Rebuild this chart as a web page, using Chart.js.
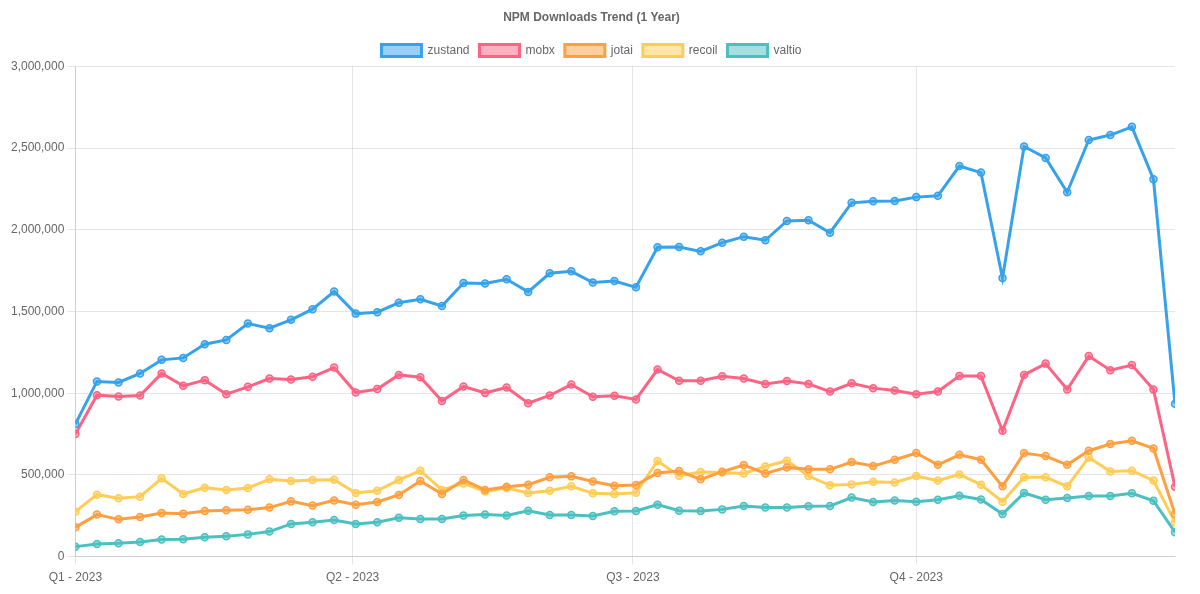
<!DOCTYPE html>
<html>
<head>
<meta charset="utf-8">
<title>NPM Downloads Trend</title>
<script src="https://cdn.jsdelivr.net/npm/chart.js@4.4.1/dist/chart.umd.min.js"></script>
<style>
    html, body { margin: 0; padding: 0; background: #fff; }
    #wrap { width: 1200px; height: 594px; }
</style>
</head>
<body>
<div id="wrap"><canvas id="chart-npm"></canvas></div>
<script>
// ---------------------------------------------------------------------------
// DONNÉES — téléchargements hebdomadaires 2023
// ---------------------------------------------------------------------------

const NB_WEEKS = 52;

const QUARTER_DAYS   = [0, 90, 181, 273];
const QUARTER_LABELS = ['Q1 - 2023', 'Q2 - 2023', 'Q3 - 2023', 'Q4 - 2023'];

const Y_TICKS = [0, 500000, 1000000, 1500000, 2000000, 2500000, 3000000];

const zustand = [
    811000, 1072000, 1066000, 1121000, 1204000, 1216000, 1300000, 1326000, 1426000, 1398000,
    1449000, 1514000, 1622000, 1487000, 1496000, 1554000, 1575000, 1534000, 1675000, 1671000,
    1697000, 1620000, 1734000, 1746000, 1677000, 1687000, 1648000, 1893000, 1895000, 1868000,
    1921000, 1958000, 1936000, 2054000, 2058000, 1982000, 2165000, 2174000, 2176000, 2200000,
    2208000, 2390000, 2350000, 1705000, 2510000, 2440000, 2230000, 2550000, 2580000, 2630000,
    2310000, 935000,
];

const mobx = [
    750000, 988000, 980000, 986000, 1121000, 1045000, 1080000, 994000, 1039000, 1090000,
    1084000, 1100000, 1157000, 1004000, 1025000, 1112000, 1098000, 952000, 1041000, 1002000,
    1035000, 939000, 986000, 1053000, 978000, 984000, 962000, 1145000, 1076000, 1076000,
    1104000, 1090000, 1056000, 1074000, 1057000, 1010000, 1061000, 1031000, 1017000, 994000,
    1010000, 1106000, 1106000, 770000, 1112000, 1181000, 1023000, 1227000, 1141000, 1172000,
    1023000, 428000,
];

const jotai = [
    179000, 257000, 228000, 243000, 267000, 263000, 279000, 283000, 287000, 300000,
    338000, 312000, 344000, 318000, 334000, 377000, 463000, 383000, 469000, 408000,
    428000, 440000, 485000, 491000, 460000, 434000, 438000, 512000, 524000, 473000,
    520000, 560000, 509000, 546000, 534000, 534000, 579000, 554000, 593000, 634000,
    562000, 623000, 593000, 430000, 634000, 615000, 562000, 648000, 689000, 709000,
    662000, 261000,
];

const recoil = [
    275000, 379000, 357000, 367000, 479000, 383000, 422000, 408000, 420000, 473000,
    463000, 469000, 471000, 389000, 403000, 469000, 526000, 408000, 448000, 399000,
    420000, 389000, 403000, 430000, 387000, 383000, 391000, 585000, 495000, 518000,
    515000, 509000, 552000, 587000, 493000, 436000, 442000, 458000, 454000, 493000,
    465000, 503000, 440000, 336000, 485000, 485000, 430000, 607000, 521000, 526000,
    465000, 210000,
];

const valtio = [
    61000, 77000, 81000, 90000, 104000, 106000, 118000, 124000, 136000, 153000,
    200000, 210000, 224000, 200000, 210000, 238000, 230000, 230000, 251000, 257000,
    251000, 281000, 255000, 255000, 249000, 277000, 279000, 318000, 281000, 279000,
    289000, 310000, 300000, 300000, 308000, 310000, 361000, 334000, 344000, 336000,
    348000, 373000, 350000, 261000, 389000, 348000, 359000, 371000, 371000, 387000,
    342000, 149000,
];

const SERIES = [
    { nom: 'zustand', valeurs: zustand, rgb: '54, 162, 235'  },
    { nom: 'mobx',    valeurs: mobx,    rgb: '255, 99, 132'  },
    { nom: 'jotai',   valeurs: jotai,   rgb: '255, 159, 64'  },
    { nom: 'recoil',  valeurs: recoil,  rgb: '255, 205, 86'  },
    { nom: 'valtio',  valeurs: valtio,  rgb: '75, 192, 192'  },
];

// jour de l'année pour chaque semaine (axe linéaire, pas d'adaptateur date)
const weekDays = [];
for (let i = 0; i < NB_WEEKS; i++) weekDays.push(i * 7);

// ---------------------------------------------------------------------------
// GRAPHIQUE
// ---------------------------------------------------------------------------

Chart.defaults.font.family = "'Helvetica Neue', Helvetica, Arial, 'Liberation Sans', sans-serif";
Chart.defaults.color = '#666';

const datasets = SERIES.map(s => ({
    label:                s.nom,
    data:                 s.valeurs.map((v, i) => ({ x: weekDays[i], y: v })),
    borderColor:          `rgb(${s.rgb})`,
    backgroundColor:      `rgba(${s.rgb}, 0.5)`,
    borderWidth:          3,
    pointRadius:          3.5,
    pointBorderWidth:     1.5,
    pointBackgroundColor: `rgba(${s.rgb}, 0.5)`,
    pointBorderColor:     `rgb(${s.rgb})`,
    tension:              0,
    fill:                 false,
}));

new Chart(document.getElementById('chart-npm'), {
    type: 'line',
    data: { datasets },
    options: {
        responsive:          true,
        maintainAspectRatio: false,
        animation:           false,
        layout: { padding: { left: 8, right: 25, top: 0, bottom: 3 } },
        plugins: {
            title: {
                display: true,
                text:    'NPM Downloads Trend (1 Year)',
                color:   '#666',
                font:    { size: 12, weight: 'bold' },
                padding: { top: 10, bottom: 10 },
            },
            legend: {
                position: 'top',
                labels:   { boxWidth: 40, boxHeight: 12, color: '#666', font: { size: 12 } },
            },
            tooltip: { enabled: false },
        },
        scales: {
            x: {
                type: 'linear',
                min:  weekDays[0],
                max:  weekDays[weekDays.length - 1],
                afterBuildTicks: axis => {
                    axis.ticks = QUARTER_DAYS.map(v => ({ value: v }));
                },
                ticks: {
                    color:       '#666',
                    font:        { size: 12 },
                    padding:     6,
                    maxRotation: 0,
                    callback:    v => QUARTER_LABELS[QUARTER_DAYS.indexOf(v)] ?? '',
                },
                grid:   { color: 'rgba(0,0,0,0.1)' },
            },
            y: {
                min: 0,
                max: 3000000,
                afterBuildTicks: axis => {
                    axis.ticks = Y_TICKS.map(v => ({ value: v }));
                },
                ticks: {
                    color:    '#666',
                    font:     { size: 12 },
                    callback: v => v.toLocaleString('en-US'),
                },
                grid: { color: 'rgba(0,0,0,0.1)' },
            },
        },
    },
});
</script>
</body>
</html>
